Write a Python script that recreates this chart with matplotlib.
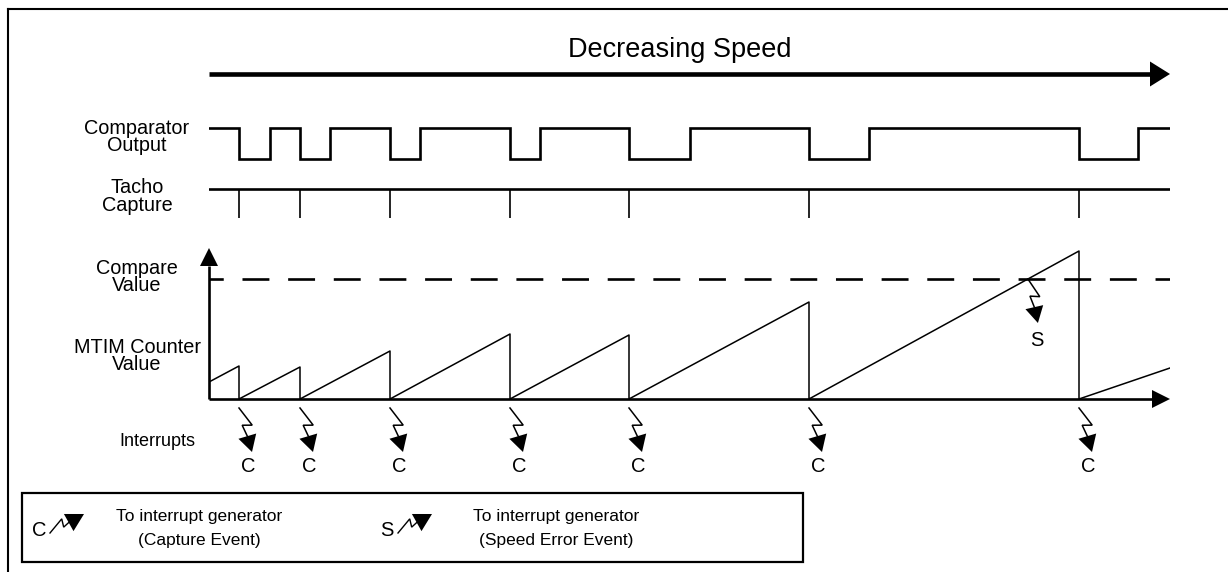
import matplotlib
matplotlib.use('Agg')
import matplotlib.pyplot as plt
from matplotlib.patches import Polygon, Rectangle
import numpy as np

# timing data (time units: 0 = start of the time axis)
t_end = 961
comp_fall = [30, 91, 181, 301, 420, 600, 870]
comp_rise = [61, 121, 211, 331, 481, 660, 929]
capture_t = [30, 91, 181, 301, 420, 600, 870]

# MTIM counter values
counter_start = 17
counter_peak = [33, 32, 48, 65, 64, 97, 148]
counter_last = 31
compare_value = 120
counter_max = 151

row_labels = [('Comparator', 'Output'), ('Tacho', 'Capture'),
              ('Compare', 'Value'), ('MTIM Counter', 'Value')]
row_label_y = [137, 196.5, 277, 356]

REG = ['Liberation Sans', 'DejaVu Sans']

W, H = 1228, 572
fig = plt.figure(figsize=(W / 100, H / 100), dpi=100)


def rect(x0, y0, x1, y1):
    # pixel box (y down) -> figure fraction
    return [x0 / W, (H - y1) / H, (x1 - x0) / W, (y1 - y0) / H]


bg = fig.add_axes([0, 0, 1, 1])
bg.set_xlim(0, W)
bg.set_ylim(H, 0)
bg.axis('off')

ax_sig = fig.add_axes(rect(209, 110, 1170, 230))
ax_sig.set_xlim(0, t_end)
ax_sig.set_ylim(230, 110)
ax_sig.axis('off')

ax_cnt = fig.add_axes(rect(209, 248, 1170, 399))
ax_cnt.set_xlim(0, t_end)
ax_cnt.set_ylim(0, counter_max)
ax_cnt.axis('off')

inv = bg.transData.inverted()


def to_bg(ax, x, y):
    return inv.transform(ax.transData.transform((x, y)))


def arrow(x0, y0, x1, y1, lw, hl, hw):
    d = np.array([x1 - x0, y1 - y0], float)
    u = d / np.hypot(*d)
    p = np.array([-u[1], u[0]])
    base = np.array([x1, y1]) - u * hl
    bg.plot([x0, base[0]], [y0, base[1]], color='k', lw=lw, solid_capstyle='butt')
    tri = [(x1, y1), tuple(base + p * hw), tuple(base - p * hw)]
    bg.add_patch(Polygon(tri, closed=True, color='k', lw=0))


def zap(x0, y0, x1, y1, lw=1.1, head=0.36):
    # lightning arrow from (x0,y0) to tip (x1,y1)
    s = np.array([x0, y0], float)
    d = np.array([x1 - x0, y1 - y0], float)
    L = np.hypot(*d)
    u = d / L
    p = np.array([-u[1], u[0]])
    k1 = s + u * 0.44 * L - p * 0.17 * L
    k2 = s + u * 0.38 * L + p * 0.04 * L
    tip = s + d
    base = tip - u * head * L
    bg.plot([s[0], k1[0], k2[0], base[0]], [s[1], k1[1], k2[1], base[1]],
            color='k', lw=lw, solid_joinstyle='miter')
    hw = head * 0.56 * L
    tri = [tuple(tip), tuple(base + p * hw), tuple(base - p * hw)]
    bg.add_patch(Polygon(tri, closed=True, color='k', lw=0))


# outer frame
bg.plot([8, W], [9, 9], color='k', lw=1.5)
bg.plot([8, 8], [9, H], color='k', lw=1.5)

# decreasing speed arrow
arrow(209, 74, 1170, 74, 3.3, 20, 12.5)
bg.text(680, 50, 'Decreasing Speed', fontsize=19.5, family=REG, ha='center', va='center')

# row labels
for (l1, l2), yc in zip(row_labels, row_label_y):
    bg.text(137, yc - 8.8, l1, fontsize=14.3, family=REG, ha='center', va='center')
    bg.text(137, yc + 8.8, l2, fontsize=14.3, family=REG, ha='center', va='center')
bg.text(157, 441, 'Interrupts', fontsize=13, family=REG, ha='center', va='center')

# comparator output
xs, ys = [0], [128]
for f, r in zip(comp_fall, comp_rise):
    xs += [f, f, r, r]
    ys += [128, 159, 159, 128]
xs.append(t_end)
ys.append(128)
ax_sig.plot(xs, ys, color='k', lw=1.9, solid_joinstyle='miter')

# tacho capture
ax_sig.plot([0, t_end], [189, 189], color='k', lw=1.9)
ax_sig.vlines(capture_t, 189, 218, color='k', lw=1.2)

# counter sawtooth
cx, cy = [0], [counter_start]
for t, v in zip(capture_t, counter_peak):
    cx += [t, t]
    cy += [v, 0]
cx.append(t_end)
cy.append(counter_last)
ax_cnt.plot(cx, cy, color='k', lw=1.1)

# compare value
ax_cnt.plot([0, t_end], [compare_value, compare_value], color='k', lw=1.9,
            linestyle=(4.8, (10.2, 7.1)))

# counter axes
arrow(209, 399, 1170, 399, 1.9, 18, 9)
arrow(209, 399, 209, 248, 1.9, 18, 9)

# capture interrupts
for t in capture_t:
    x, y = to_bg(ax_cnt, t, 0)
    zap(x, y + 9, x + 13, y + 53)
    bg.text(x + 9, 466, 'C', fontsize=14.5, family=REG, ha='center', va='center')

# speed error interrupt where the counter crosses the compare value
i = len(capture_t) - 1
t_cross = capture_t[i - 1] + (capture_t[i] - capture_t[i - 1]) * compare_value / counter_peak[i]
sx, sy = to_bg(ax_cnt, t_cross, compare_value)
zap(sx, sy, sx + 10, sy + 44)
bg.text(sx + 9, 340, 'S', fontsize=14.5, family=REG, ha='center', va='center')

# legend box
bg.add_patch(Rectangle((22, 493), 781, 69, fill=False, ec='k', lw=1.6))
for key, kx, tx, line2 in [('C', 39, 199, '(Capture Event)'),
                           ('S', 387, 556, '(Speed Error Event)')]:
    bg.text(kx, 530, key, fontsize=14.5, family=REG, ha='center', va='center')
    zap(kx + 11, 533, kx + 45, 514, lw=1.0, head=0.45)
    bg.text(tx, 516, 'To interrupt generator', fontsize=12.5, family=REG, ha='center', va='center')
    bg.text(tx, 541, line2, fontsize=12.5, family=REG, ha='center', va='center')

fig.savefig('out.png', dpi=100)
